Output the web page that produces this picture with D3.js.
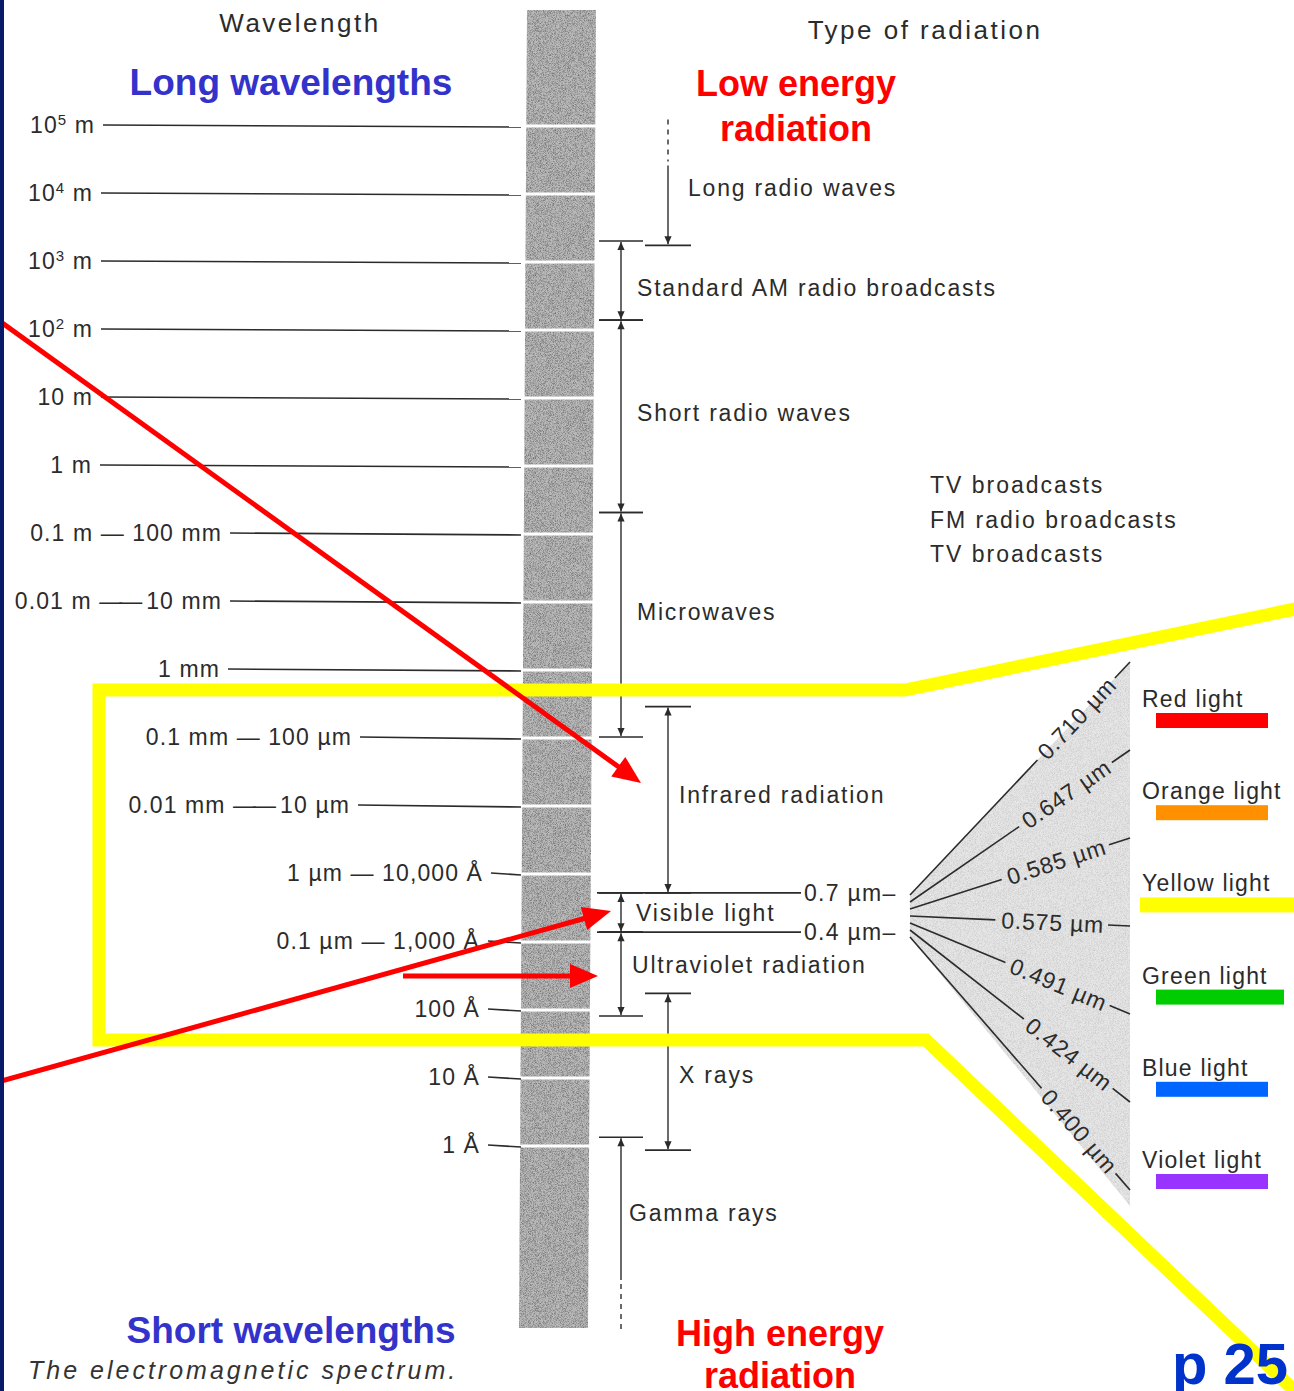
<!DOCTYPE html>
<html>
<head>
<meta charset="utf-8">
<script src="https://cdn.jsdelivr.net/npm/d3@7"></script>
<style>
  body { margin: 0; background: #fff; }
  text { font-family: "Liberation Sans", Arial, Helvetica, sans-serif; }
</style>
</head>
<body>
<div id="container"></div>
<script>
// wavelength axis, in metres
var tickValues = [1e5, 1e4, 1e3, 1e2, 10, 1, 0.1, 0.01, 1e-3, 1e-4, 1e-5, 1e-6, 1e-7, 1e-8, 1e-9, 1e-10];
var tickLabels = ["10⁵ m", "10⁴ m", "10³ m", "10² m", "10 m", "1 m", "0.1 m — 100 mm", "0.01 m —— 10 mm",
  "1 mm", "0.1 mm — 100 µm", "0.01 mm —— 10 µm", "1 µm — 10,000 Å", "0.1 µm — 1,000 Å", "100 Å", "10 Å", "1 Å"];

// radiation types: long and short end of each band (metres)
var bandNames = ["Long radio waves", "Standard AM radio broadcasts", "Short radio waves", "Microwaves",
  "Infrared radiation", "Visible light", "Ultraviolet radiation", "X rays", "Gamma rays"];
var bandLong = [1.2e5, 1970, 135, 0.2, 2.8e-4, 5.1e-7, 1.35e-7, 1.7e-8, 1.3e-10];
var bandShort = [1700, 135, 0.2, 1e-4, 5.1e-7, 1.35e-7, 7.9e-9, 8.4e-11, 1.9e-13];

var broadcastNames = ["TV broadcasts", "FM radio broadcasts", "TV broadcasts"];
var visibleEdges = ["0.7 µm–", "0.4 µm–"];

// visible light fan
var fanLabels = ["0.710 µm", "0.647 µm", "0.585 µm", "0.575 µm", "0.491 µm", "0.424 µm", "0.400 µm"];
var colorNames = ["Red light", "Orange light", "Yellow light", "Green light", "Blue light", "Violet light"];
var colorSwatches = ["#ff0000", "#ff9000", "#ffff00", "#00cc00", "#0066ff", "#9933ff"];

// ---------------------------------------------------------------
var W = 1294, H = 1391;
var ink = "#2b2b2b";
var supers = { "⁵": "5", "⁴": "4", "³": "3", "²": "2" };

var svg = d3.select("#container").append("svg")
  .attr("width", W).attr("height", H)
  .style("display", "block");

var defs = svg.append("defs");
// paper grain for the printed grey areas
var grain = defs.append("filter").attr("id", "grain").attr("x", 0).attr("y", 0).attr("width", 1).attr("height", 1);
grain.append("feTurbulence").attr("type", "fractalNoise").attr("baseFrequency", 1.4).attr("numOctaves", 1).attr("seed", 4);
grain.append("feColorMatrix").attr("type", "matrix")
  .attr("values", "0 0 0 0 0  0 0 0 0 0  0 0 0 0 0  1.0 0 0 0 -0.4");
grain.append("feComposite").attr("in2", "SourceGraphic").attr("operator", "in");

var arrow = defs.append("marker").attr("id", "arr")
  .attr("viewBox", "0 0 10 10").attr("refX", 10).attr("refY", 5)
  .attr("markerUnits", "userSpaceOnUse").attr("markerWidth", 11).attr("markerHeight", 8)
  .attr("orient", "auto-start-reverse");
arrow.append("path").attr("d", "M0,0.5L10,5L0,9.5Z").attr("fill", ink);

svg.append("rect").attr("width", W).attr("height", H).attr("fill", "#fff");

// wavelength scale: one decade ~ 68px
var y = d3.scaleLog().domain([1e5, 1e-10]).range([125, 1145]);

// grey spectrum column
var colPts = [[527, 10], [596, 10], [588, 1328], [519, 1328]];
svg.append("polygon").attr("points", colPts.join(" ")).attr("fill", "#bababa");
svg.append("polygon").attr("points", colPts.join(" ")).attr("fill", "#bababa").attr("filter", "url(#grain)");
svg.append("g").selectAll("line").data(tickValues).enter().append("line")
  .attr("x1", 515).attr("x2", 600)
  .attr("y1", function (d) { return y(d) + 1; }).attr("y2", function (d) { return y(d) + 1; })
  .attr("stroke", "#fff").attr("stroke-width", 3);

// headers
svg.append("text").attr("x", 300).attr("y", 32).attr("text-anchor", "middle")
  .attr("font-size", 26).attr("letter-spacing", 2.5).attr("fill", ink).text("Wavelength");
svg.append("text").attr("x", 925).attr("y", 39).attr("text-anchor", "middle")
  .attr("font-size", 26).attr("letter-spacing", 2.5).attr("fill", ink).text("Type of radiation");

// wavelength tick labels + leader lines to the column
var labelRight = [95, 93, 93, 93, 93, 92, 222, 222, 220, 352, 350, 483, 480, 480, 480, 480];
var ticks = svg.append("g").selectAll("g").data(tickValues).enter().append("g");
ticks.append("text")
  .attr("x", function (d, i) { return labelRight[i]; })
  .attr("y", function (d) { return y(d) + 8; })
  .attr("text-anchor", "end").attr("font-size", 23).attr("letter-spacing", 1.1).attr("fill", ink)
  .each(function (d, i) {
    var t = d3.select(this), s = tickLabels[i], m = s.match(/^10([⁵⁴³²])(.*)$/);
    if (m) {
      t.append("tspan").text("10");
      t.append("tspan").attr("font-size", 15).attr("dy", -8).text(supers[m[1]]);
      t.append("tspan").attr("dy", 8).text(m[2]);
    } else if (s.indexOf("——") >= 0) {
      var parts = s.split("——");
      t.append("tspan").text(parts[0]);
      t.append("tspan").attr("letter-spacing", -3).text("——");
      t.append("tspan").attr("dx", 7).text(parts[1].trim());
    } else {
      t.text(s);
    }
  });
ticks.append("line")
  .attr("x1", function (d, i) { return labelRight[i] + 8; }).attr("x2", 521)
  .attr("y1", function (d) { return y(d); }).attr("y2", function (d) { return y(d) + 2; })
  .attr("stroke", ink).attr("stroke-width", 1.6);

// radiation bands: vertical arrows, end ticks and names
var colA = 621, colB = 668;
var bandX = [colB, colA, colA, colA, colB, colA, colA, colB, colA];
var bandLabelX = [688, 637, 637, 637, 679, 636, 632, 679, 629];
var bandLabelY = [188, 288, 413, 612, 795, 913, 965, 1075, 1213];

var bands = svg.append("g").selectAll("g").data(bandNames).enter().append("g");
bands.each(function (name, i) {
  var g = d3.select(this);
  var x = bandX[i], y1 = y(bandLong[i]), y2 = y(bandShort[i]);
  var half = x === colB ? 23 : 22;
  if (i === 0) {
    // open-ended towards long wavelengths
    g.append("line").attr("x1", x).attr("x2", x).attr("y1", y1).attr("y2", y1 + 42)
      .attr("stroke", ink).attr("stroke-width", 1.4).attr("stroke-dasharray", "5,5");
    g.append("line").attr("x1", x).attr("x2", x).attr("y1", y1 + 46).attr("y2", y2 - 1)
      .attr("stroke", ink).attr("stroke-width", 1.4).attr("marker-end", "url(#arr)");
  } else if (i === bandNames.length - 1) {
    // open-ended towards short wavelengths
    g.append("line").attr("x1", x).attr("x2", x).attr("y1", y2 - 50).attr("y2", y1 + 1)
      .attr("stroke", ink).attr("stroke-width", 1.4).attr("marker-end", "url(#arr)");
    g.append("line").attr("x1", x).attr("x2", x).attr("y1", y2 - 46).attr("y2", y2)
      .attr("stroke", ink).attr("stroke-width", 1.4).attr("stroke-dasharray", "5,5");
  } else {
    g.append("line").attr("x1", x).attr("x2", x).attr("y1", y1 + 1).attr("y2", y2 - 1)
      .attr("stroke", ink).attr("stroke-width", 1.4)
      .attr("marker-start", "url(#arr)").attr("marker-end", "url(#arr)");
  }
  var ends = [];
  if (i !== 0) ends.push(y1);
  if (i !== bandNames.length - 1) ends.push(y2);
  ends.forEach(function (yy) {
    g.append("line").attr("x1", x - half).attr("x2", x + half).attr("y1", yy).attr("y2", yy)
      .attr("stroke", ink).attr("stroke-width", 1.6);
  });
  g.append("text").attr("x", bandLabelX[i]).attr("y", bandLabelY[i] + 8)
    .attr("font-size", 23).attr("letter-spacing", 1.8).attr("fill", ink).text(name);
});

// visible light boundaries
var visIdx = bandNames.indexOf("Visible light");
var visY = [y(bandLong[visIdx]), y(bandShort[visIdx])];
var vis = svg.append("g").selectAll("g").data(visibleEdges).enter().append("g");
vis.append("line").attr("x1", 597).attr("x2", 801)
  .attr("y1", function (d, i) { return visY[i]; }).attr("y2", function (d, i) { return visY[i]; })
  .attr("stroke", ink).attr("stroke-width", 1.6);
vis.append("text").attr("x", 804).attr("y", function (d, i) { return visY[i] + 8; })
  .attr("font-size", 23).attr("letter-spacing", 1.3).attr("fill", ink).text(function (d) { return d; });

// broadcast notes
svg.append("g").selectAll("text").data(broadcastNames).enter().append("text")
  .attr("x", 930).attr("y", function (d, i) { return 493 + i * 34.5; })
  .attr("font-size", 23).attr("letter-spacing", 2).attr("fill", ink).text(function (d) { return d; });

// fan of visible wavelengths
var fanX0 = 910, fanX1 = 1130;
var fanStart = d3.scalePoint().domain(fanLabels).range([895, 937]);
var fanEnd = d3.scalePoint().domain(fanLabels).range([662, 1190]);
var fanPts = [[fanX0, 895], [fanX1, fanEnd(fanLabels[0])], [fanX1, 1206], [fanX0, 937]].join(" ");
svg.append("polygon").attr("points", fanPts).attr("fill", "#e6e6e6");
svg.append("polygon").attr("points", fanPts).attr("fill", "#e6e6e6")
  .attr("filter", "url(#grain)").attr("opacity", 0.3);

var fan = svg.append("g").selectAll("g").data(fanLabels).enter().append("g");
fan.each(function (d) {
  var g = d3.select(this);
  var x0 = fanX0, y0 = fanStart(d), x1 = fanX1, y1 = fanEnd(d);
  var L = Math.hypot(x1 - x0, y1 - y0), ux = (x1 - x0) / L, uy = (y1 - y0) / L;
  var ang = Math.atan2(y1 - y0, x1 - x0) * 180 / Math.PI;
  var tEnd = L - 26;
  var t = g.append("text")
    .attr("transform", "translate(" + (x0 + ux * tEnd) + "," + (y0 + uy * tEnd) + ") rotate(" + ang + ")")
    .attr("text-anchor", "end").attr("dy", "0.35em")
    .attr("font-size", 23).attr("letter-spacing", 0.8).attr("fill", ink).text(d);
  var w = t.node().getComputedTextLength();
  var tStart = tEnd - w - 6;
  g.append("line").attr("x1", x0).attr("y1", y0).attr("x2", x0 + ux * tStart).attr("y2", y0 + uy * tStart)
    .attr("stroke", ink).attr("stroke-width", 1.6);
  g.append("line").attr("x1", x0 + ux * (L - 22)).attr("y1", y0 + uy * (L - 22)).attr("x2", x1).attr("y2", y1)
    .attr("stroke", ink).attr("stroke-width", 1.6);
});

// colour key
var keyY = d3.scalePoint().domain(colorNames).range([699, 1160]);
var swX0 = [1156, 1156, 1140, 1156, 1156, 1156];
var swX1 = [1268, 1268, 1294, 1284, 1268, 1268];
var key = svg.append("g").selectAll("g").data(colorNames).enter().append("g");
key.append("text").attr("x", 1142).attr("y", function (d) { return keyY(d) + 8; })
  .attr("font-size", 23).attr("letter-spacing", 1.2).attr("fill", ink).text(function (d) { return d; });
key.append("rect")
  .attr("x", function (d, i) { return swX0[i]; })
  .attr("width", function (d, i) { return swX1[i] - swX0[i]; })
  .attr("y", function (d) { return keyY(d) + 14; }).attr("height", 15)
  .attr("fill", function (d, i) { return colorSwatches[i]; });

// caption
svg.append("text").attr("x", 28).attr("y", 1379).attr("font-size", 25).attr("font-style", "italic")
  .attr("letter-spacing", 3).attr("fill", "#333").text("The electromagnetic spectrum.");

// slide annotations
var blue = "#3333cc", red = "#ff0000";
svg.append("text").attr("x", 291).attr("y", 95).attr("text-anchor", "middle")
  .attr("font-size", 37).attr("font-weight", "bold").attr("fill", blue).text("Long wavelengths");
svg.append("text").attr("x", 291).attr("y", 1343).attr("text-anchor", "middle")
  .attr("font-size", 37).attr("font-weight", "bold").attr("fill", blue).text("Short wavelengths");
[["Low energy", 796, 96], ["radiation", 796, 141], ["High energy", 780, 1346], ["radiation", 780, 1388]]
  .forEach(function (r) {
    svg.append("text").attr("x", r[1]).attr("y", r[2]).attr("text-anchor", "middle")
      .attr("font-size", 36).attr("font-weight", "bold").attr("fill", red).text(r[0]);
  });

// yellow call-out around the infrared / visible / UV part
svg.append("path")
  .attr("d", "M1300,608 L905,690 L99,690 L99,1040 L926,1040 L1300,1396")
  .attr("fill", "none").attr("stroke", "#ffff00").attr("stroke-width", 13).attr("stroke-linejoin", "miter");

// red pointer arrows
function redArrow(x0, y0, x1, y1) {
  var L = Math.hypot(x1 - x0, y1 - y0), ux = (x1 - x0) / L, uy = (y1 - y0) / L;
  var hl = 28, hw = 12;
  var bx = x1 - ux * hl, by = y1 - uy * hl;
  svg.append("line").attr("x1", x0).attr("y1", y0).attr("x2", bx + ux * 2).attr("y2", by + uy * 2)
    .attr("stroke", red).attr("stroke-width", 5);
  svg.append("polygon")
    .attr("points", [[x1, y1], [bx - uy * hw, by + ux * hw], [bx + uy * hw, by - ux * hw]].join(" "))
    .attr("fill", red);
}
redArrow(-2, 320, 641, 783);
redArrow(-2, 1082, 611, 911);
redArrow(403, 976, 598, 976);

// page number
svg.append("text").attr("x", 1172).attr("y", 1384).attr("font-size", 58).attr("font-weight", "bold")
  .attr("fill", "#0033cc").text("p 25");

// slide frame edge
svg.append("rect").attr("x", 0).attr("y", 0).attr("width", 4).attr("height", H).attr("fill", "#0a1a6b");
</script>
</body>
</html>
